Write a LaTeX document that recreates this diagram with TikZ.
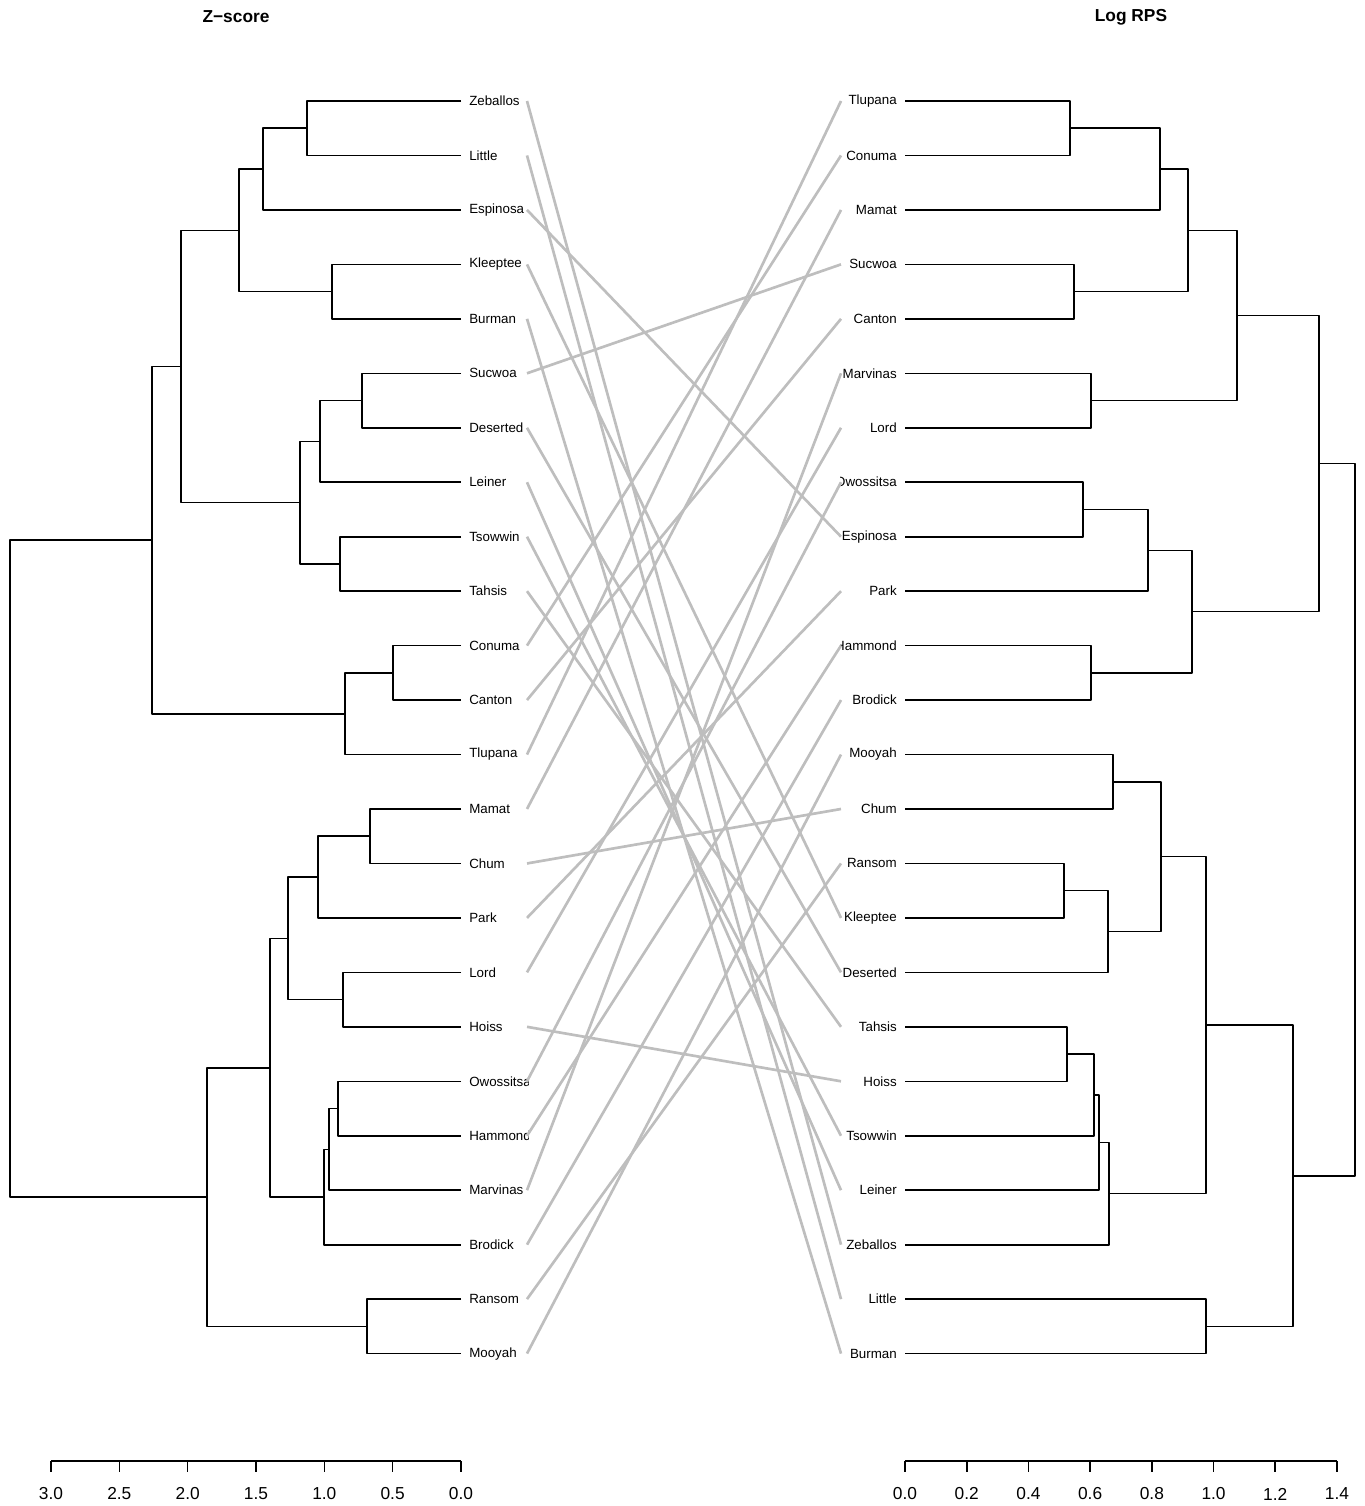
\documentclass[tikz,border=0pt]{standalone}
\usepackage{fontspec}
\setmainfont{Liberation Sans}
\usetikzlibrary{positioning}

\definecolor{tangle}{HTML}{BEBEBE}

% one bracket of a dendrogram: merge height x, upper child (y1 from x1), lower child (y2 from x2)
\newcommand{\brk}[5]{\draw[tree] (#3,#2) -| (#1,#4) -- (#5,#4);}

\begin{document}
\begin{tikzpicture}[x=0.75pt, y=-0.75pt, line join=round, line cap=butt,
    tree/.style={draw=black, line width=1.2pt},
    tangleline/.style={draw=tangle, line width=2pt},
    leafl/.style={anchor=west, inner sep=0pt, font=\fontsize{10}{12}\selectfont},
    leafr/.style={anchor=east, inner sep=0pt, font=\fontsize{10}{12}\selectfont},
    ttl/.style={font=\fontsize{13}{15}\selectfont\bfseries},
    ticklab/.style={font=\fontsize{13}{15}\selectfont}]

    \useasboundingbox (0,0) rectangle (1364,1506);

    % Titles
    \node[ttl] (ttlz) at (236,17) {Z−score};
    \node[ttl] (ttlr) at (1131,17) {Log RPS};

    % Left leaves (labels clipped like the plot region)
    \begin{scope}
    \clip (0,0) rectangle (528,1506);
    \foreach \nm [count=\i from 0] in {Zeballos,Little,Espinosa,Kleeptee,Burman,Sucwoa,Deserted,Leiner,Tsowwin,Tahsis,Conuma,Canton,Tlupana,Mamat,Chum,Park,Lord,Hoiss,Owossitsa,Hammond,Marvinas,Brodick,Ransom,Mooyah}{
        \node[leafl] (L\nm) at (469,{101+54.46*\i}) {\nm};
        \coordinate (l\nm) at (527,{101+54.46*\i});
    }
    \end{scope}

    % Right leaves
    \begin{scope}
    \clip (840,0) rectangle (1364,1506);
    \foreach \nm [count=\i from 0] in {Tlupana,Conuma,Mamat,Sucwoa,Canton,Marvinas,Lord,Owossitsa,Espinosa,Park,Hammond,Brodick,Mooyah,Chum,Ransom,Kleeptee,Deserted,Tahsis,Hoiss,Tsowwin,Leiner,Zeballos,Little,Burman}{
        \node[leafr] (R\nm) at (897,{101+54.46*\i}) {\nm};
        \coordinate (r\nm) at (841,{101+54.46*\i});
    }
    \end{scope}

    % Tangle lines
    \foreach \nm in {Zeballos,Little,Espinosa,Kleeptee,Burman,Sucwoa,Deserted,Leiner,Tsowwin,Tahsis,Conuma,Canton,Tlupana,Mamat,Chum,Park,Lord,Hoiss,Owossitsa,Hammond,Marvinas,Brodick,Ransom,Mooyah}
        \draw[tangleline] (l\nm) -- (r\nm);

    % Left dendrogram (Z-score)
    \brk{307}{101}{461}{155.5}{461}
    \brk{263}{128.2}{307}{209.9}{461}
    \brk{332}{264.4}{461}{318.8}{461}
    \brk{239}{169.1}{263}{291.6}{332}
    \brk{362}{373.3}{461}{427.8}{461}
    \brk{320}{400.5}{362}{482.2}{461}
    \brk{340}{536.7}{461}{591.1}{461}
    \brk{300}{441.4}{320}{563.9}{340}
    \brk{181}{230.4}{239}{502.6}{300}
    \brk{393}{645.6}{461}{700.1}{461}
    \brk{345}{672.8}{393}{754.5}{461}
    \brk{152}{366.5}{181}{713.7}{345}
    \brk{370}{809}{461}{863.4}{461}
    \brk{318}{836.2}{370}{917.9}{461}
    \brk{343}{972.4}{461}{1026.8}{461}
    \brk{288}{877.1}{318}{999.6}{343}
    \brk{338}{1081.3}{461}{1135.7}{461}
    \brk{329}{1108.5}{338}{1190.2}{461}
    \brk{324}{1149.4}{329}{1244.7}{461}
    \brk{270}{938.3}{288}{1197}{324}
    \brk{367}{1299.1}{461}{1353.6}{461}
    \brk{207}{1067.7}{270}{1326.4}{367}
    \brk{10}{540.1}{152}{1197}{207}

    % Right dendrogram (Log RPS)
    \brk{1070}{101}{905}{155.5}{905}
    \brk{1160}{128.2}{1070}{209.9}{905}
    \brk{1074}{264.4}{905}{318.8}{905}
    \brk{1188}{169.1}{1160}{291.6}{1074}
    \brk{1091}{373.3}{905}{427.8}{905}
    \brk{1237}{230.4}{1188}{400.5}{1091}
    \brk{1083}{482.2}{905}{536.7}{905}
    \brk{1148}{509.4}{1083}{591.1}{905}
    \brk{1091}{645.6}{905}{700.1}{905}
    \brk{1192}{550.3}{1148}{672.8}{1091}
    \brk{1319}{315.5}{1237}{611.6}{1192}
    \brk{1113}{754.5}{905}{809}{905}
    \brk{1064}{863.4}{905}{917.9}{905}
    \brk{1108}{890.6}{1064}{972.4}{905}
    \brk{1161}{781.8}{1113}{931.5}{1108}
    \brk{1067}{1026.8}{905}{1081.3}{905}
    \brk{1094}{1054}{1067}{1135.7}{905}
    \brk{1099}{1094.9}{1094}{1190.2}{905}
    \brk{1109}{1142.5}{1099}{1244.7}{905}
    \brk{1206}{856.6}{1161}{1193.6}{1109}
    \brk{1206}{1299.1}{905}{1353.6}{905}
    \brk{1293}{1025.1}{1206}{1326.4}{1206}
    \brk{1355}{463.5}{1319}{1175.7}{1293}

    % Left axis
    \draw[tree] (51,1461) -- (461,1461);
    \foreach \v [count=\k from 0] in {3.0,2.5,2.0,1.5,1.0,0.5,0.0}{
        \draw[tree] ({51+68.33*\k},1461) -- ({51+68.33*\k},1472);
        \node[ticklab] (axl\k) at ({51+68.33*\k},1494) {\v};
    }

    % Right axis
    \draw[tree] (905,1461) -- (1337,1461);
    \foreach \v [count=\k from 0] in {0.0,0.2,0.4,0.6,0.8,1.0,1.2,1.4}{
        \draw[tree] ({905+61.71*\k},1461) -- ({905+61.71*\k},1472);
        \node[ticklab] (axr\k) at ({905+61.71*\k},1494) {\v};
    }
\end{tikzpicture}
\end{document}
